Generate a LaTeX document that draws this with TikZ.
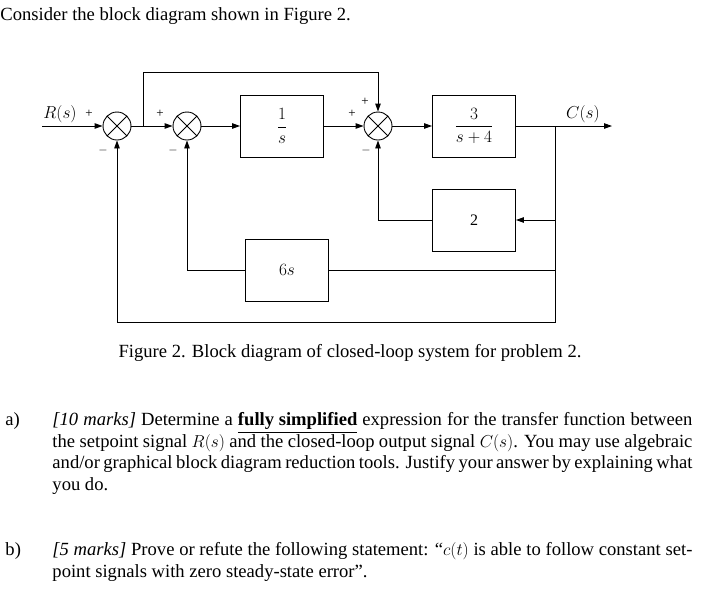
\documentclass[tikz,border=0pt]{standalone}
\usepackage{amsmath}
\usepackage{fontspec}
\setmainfont{Liberation Serif}
\usetikzlibrary{arrows.meta,positioning}

\begin{document}
\begin{tikzpicture}[x=1pt,y=-1pt,>={Triangle[length=8pt,width=5.5pt]},
  line width=0.9pt,font=\fontsize{16}{21.5}\selectfont]
  \tikzstyle{block}=[draw,minimum width=83pt,minimum height=62pt,inner sep=0pt]
  \tikzstyle{sum}=[draw,circle,minimum size=28pt,inner sep=0pt,
    path picture={\draw (path picture bounding box.north west) -- (path picture bounding box.south east)
      (path picture bounding box.north east) -- (path picture bounding box.south west);}]
  \tikzstyle{sgn}=[font=\fontsize{13}{13}\selectfont,inner sep=0pt]
  \tikzstyle{txt}=[font=\fontsize{18.6}{21.7}\selectfont]
  \useasboundingbox (0,0) rectangle (710,611);

  \node[txt,anchor=west,inner sep=0pt] at (0,16) {Consider the block diagram shown in Figure 2.};

  % blocks and summing points
  \coordinate (in) at (42,126);
  \node[sum]   (s1) at (117,126) {};
  \node[sum]   (s2) at (187,126) {};
  \node[block] (g1) at (282,126) {$\dfrac{1}{s}$};
  \node[sum]   (s3) at (378,126) {};
  \node[block] (g2) at (474,126) {$\dfrac{3}{s+4}$};
  \node[block] (h2) at (474,220) {2};
  \node[block] (h1) at (287,270) {$6s$};
  \coordinate (br) at (143,126);
  \coordinate (co) at (555,126);
  \coordinate (out) at (612,126);

  % forward path
  \draw[->] (in) -- (s1);
  \draw[->] (s1) -- (s2);
  \draw[->] (s2) -- (g1);
  \draw[->] (g1) -- (s3);
  \draw[->] (s3) -- (g2);
  \draw[->] (g2) -- (out);
  \draw[->] (br) |- (143,72) -| (s3);

  % feedback paths
  \draw[->] (co) |- (h2);
  \draw[->] (h2) -| (s3);
  \draw (co) |- (h1);
  \draw[->] (h1) -| (s2);
  \draw[->] (co) |- (117,322) -- (s1);

  % labels
  \node at (60,114) {$R(s)$};
  \node at (583,114) {$C(s)$};
  \node[sgn] at (89,114) {+};
  \node[sgn] at (103,150) {$-$};
  \node[sgn] at (160,114) {+};
  \node[sgn] at (173,150) {$-$};
  \node[sgn] at (352,114) {+};
  \node[sgn] at (365,102) {+};
  \node[sgn] at (366,150) {$-$};

  \node[txt] at (350,353) {Figure 2. Block diagram of closed-loop system for problem 2.};

  \node[txt,anchor=north west,inner sep=0pt] at (5,412) {a)};
  \node[txt,anchor=north west,text width=640pt,align=justify,inner sep=0pt] at (52,412)
    {\textit{[10 marks]} Determine a \textbf{\underline{fully simplified}} expression for the transfer function between the setpoint signal $R(s)$ and the closed-loop output signal $C(s)$. You may use algebraic and/or graphical block diagram reduction tools. Justify your answer by explaining what you do.};
  \node[txt,anchor=north west,inner sep=0pt] at (5,542) {b)};
  \node[txt,anchor=north west,text width=640pt,align=justify,inner sep=0pt] at (52,542)
    {\textit{[5 marks]} Prove or refute the following statement: ``$c(t)$ is able to follow constant setpoint signals with zero steady-state error''.};
\end{tikzpicture}
\end{document}
